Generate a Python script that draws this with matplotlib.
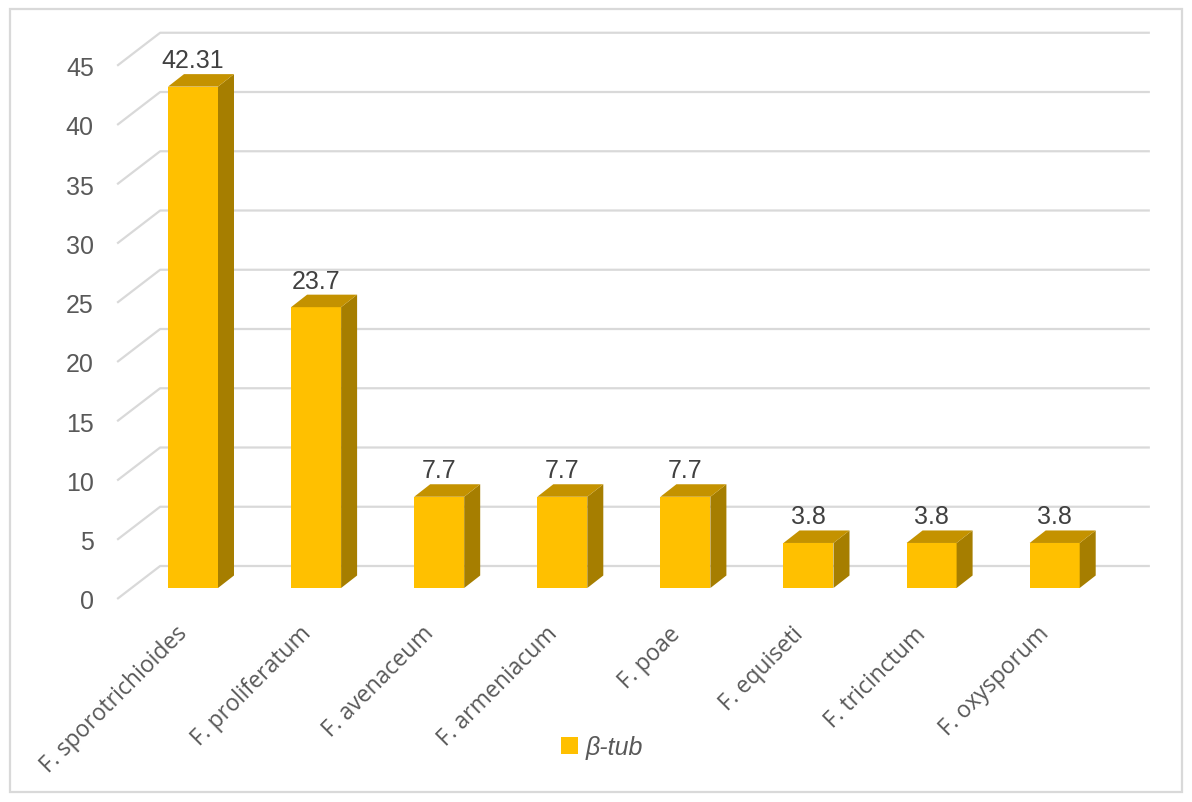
import matplotlib
matplotlib.use("Agg")
import matplotlib.pyplot as plt
from matplotlib.patches import Polygon, Rectangle, Patch

# data
species = ["F. sporotrichioides", "F. proliferatum", "F. avenaceum", "F. armeniacum",
           "F. poae", "F. equiseti", "F. tricinctum", "F. oxysporum"]
percent = [42.31, 23.7, 7.7, 7.7, 7.7, 3.8, 3.8, 3.8]
yticks = [0, 5, 10, 15, 20, 25, 30, 35, 40, 45]
series_name = "β-tub"

# colours
front_c = "#FFC000"
top_c = "#C49200"
side_c = "#A67E00"
grid_c = "#D9D9D9"

narrow = ["Liberation Sans Narrow", "Liberation Sans", "DejaVu Sans"]
plain = ["Open Sans", "DejaVu Sans"]

W, H = 1192, 803
fig = plt.figure(figsize=(W / 100, H / 100), dpi=100)
ax = fig.add_axes([0, 0, 1, 1])
ax.axis("off")

# pixel scale of the chart
xpx = 123.1   # px per category
ypx = 11.85   # px per unit
x0px, y0px = 193, 589
ax.set_xlim(-x0px / xpx, (W - x0px) / xpx)
ax.set_ylim((y0px - H) / ypx, y0px / ypx)

# depth offsets (data units)
bar_dx, bar_dy = 16 / xpx, 12.5 / ypx
front_dx, front_dy = -14.3 / xpx, -11 / ypx
back_dx, back_dy = 28.7 / xpx, 22 / ypx
wall_l, wall_r = -0.5, 7.54

# gridlines: left wall diagonal + back wall
for v in yticks:
    ax.plot([wall_l + front_dx, wall_l + back_dx, wall_r + back_dx],
            [v + front_dy, v + back_dy, v + back_dy],
            color=grid_c, lw=1.6, zorder=1, solid_capstyle="butt")
    ax.text(wall_l + front_dx - 0.19, v + front_dy, str(v), ha="right",
            va="center_baseline", fontsize=18, color="#595959", family=narrow)

# bars
xs = list(range(len(species)))
hw = 50 / xpx / 2
ax.bar(xs, percent, width=2 * hw, color=front_c, linewidth=0, zorder=3)
for i, v in zip(xs, percent):
    side = [(i + hw, 0), (i + hw + bar_dx, bar_dy), (i + hw + bar_dx, v + bar_dy), (i + hw, v)]
    top = [(i - hw, v), (i + hw, v), (i + hw + bar_dx, v + bar_dy), (i - hw + bar_dx, v + bar_dy)]
    ax.add_patch(Polygon(side, closed=True, facecolor=side_c, edgecolor="none", zorder=3))
    ax.add_patch(Polygon(top, closed=True, facecolor=top_c, edgecolor="none", zorder=3))
    ax.text(i, v + 1.65, f"{v:g}", ha="center", va="baseline", fontsize=18,
            color="#404040", family=narrow, zorder=4)
    ax.text(i - 0.14, -2.8, species[i], ha="right", va="top", rotation=45,
            rotation_mode="anchor", fontsize=16.5, color="#595959", family=plain)

ax.legend(handles=[Patch(facecolor=front_c, edgecolor="none", label=series_name)],
          loc="center", bbox_to_anchor=(602 / W, 1 - 748 / H), bbox_transform=fig.transFigure,
          frameon=False, handlelength=0.7, handleheight=0.7, handletextpad=0.3,
          prop={"family": narrow, "style": "italic", "size": 18}, labelcolor="#595959")

fig.add_artist(Rectangle((10 / W, 1 - 793 / H), 1172 / W, 783 / H, transform=fig.transFigure,
                         fill=False, edgecolor=grid_c, lw=1.6))

fig.savefig("out.png", dpi=100)
